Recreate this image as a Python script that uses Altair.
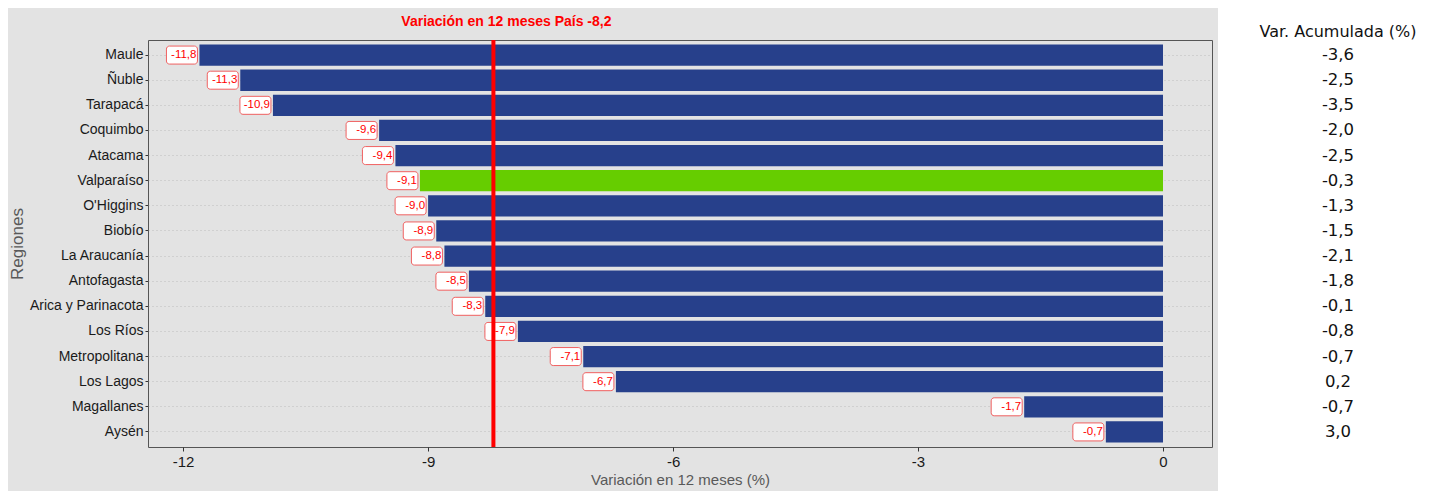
import altair as alt
import pandas as pd

regiones = ["Maule", "Ñuble", "Tarapacá", "Coquimbo", "Atacama", "Valparaíso",
            "O'Higgins", "Biobío", "La Araucanía", "Antofagasta",
            "Arica y Parinacota", "Los Ríos", "Metropolitana", "Los Lagos",
            "Magallanes", "Aysén"]
var12 = [-11.8, -11.3, -10.9, -9.6, -9.4, -9.1, -9.0, -8.9, -8.8, -8.5,
         -8.3, -7.9, -7.1, -6.7, -1.7, -0.7]
acum = [-3.6, -2.5, -3.5, -2.0, -2.5, -0.3, -1.3, -1.5, -2.1, -1.8,
        -0.1, -0.8, -0.7, 0.2, -0.7, 3.0]
destacada = "Valparaíso"
pais = -8.2
x_ticks = [-12, -9, -6, -3, 0]


def fmt(v):
    return f"{v:.1f}".replace(".", ",")


df = pd.DataFrame({"region": regiones, "var": var12, "acum": acum})
df["var2"] = df["var"]
df["grupo"] = ["dest" if r == destacada else "resto" for r in regiones]
df["lab"] = [fmt(v) for v in var12]
df["acum_lab"] = [fmt(v) for v in acum]

W, H = 1064, 407
SANS = "Liberation Sans"
RED = "#FF0000"

y_enc = alt.Y(
    "region:N", sort=regiones, title="Regiones",
    scale=alt.Scale(paddingInner=0.15, paddingOuter=0.175),
    axis=alt.Axis(
        grid=True, gridDash=[1, 3], gridColor="#BDBDBD", gridWidth=1,
        domain=False, tickColor="#333333", tickSize=3, labelPadding=2,
        labelFont=SANS, labelFontSize=14, labelColor="#1A1A1A",
        titleFont=SANS, titleFontSize=17, titleFontWeight="normal",
        titleColor="#595959", titleX=-122, titleY=H / 2,
    ),
)
x_scale = alt.Scale(domain=[-12.43, 0.6], nice=False, zero=False)
x_enc = alt.X(
    "var:Q", scale=x_scale, title="Variación en 12 meses (%)",
    axis=alt.Axis(
        values=x_ticks, labelExpr="toString(datum.value)", grid=False,
        domain=False, tickColor="#333333", tickSize=4, labelPadding=3,
        labelFont=SANS, labelFontSize=15, labelColor="#1A1A1A",
        titleFont=SANS, titleFontSize=15, titleFontWeight="normal",
        titleColor="#595959", titlePadding=3,
    ),
)

base = alt.Chart(df)

white = alt.Chart(pd.DataFrame({"a": [0]})).mark_rect(color="white").encode(
    x=alt.value(W + 6), x2=alt.value(W + 300),
    y=alt.value(-60), y2=alt.value(H + 80),
)

bars = base.mark_bar().encode(
    x=x_enc, x2=alt.datum(0), y=y_enc,
    color=alt.Color("grupo:N", scale=alt.Scale(domain=["resto", "dest"],
                                               range=["#27408B", "#66CD00"]),
                    legend=None),
)

boxes = base.mark_bar(
    height=18, cornerRadius=3, fill="white", stroke="#F06060",
    strokeWidth=1, xOffset=-33, x2Offset=-2,
).encode(x="var:Q", x2="var2:Q", y=alt.Y("region:N", sort=regiones))

labels = base.mark_text(
    align="right", baseline="middle", dx=-3, font=SANS, fontSize=11.5,
    color=RED,
).encode(x="var:Q", y=alt.Y("region:N", sort=regiones), text="lab:N")

pdf = pd.DataFrame({"p": [pais], "t": [f"Variación en 12 meses País {fmt(pais)}"]})
rule = alt.Chart(pdf).mark_rule(color=RED, strokeWidth=4).encode(x="p:Q")
title = alt.Chart(pdf).mark_text(
    font=SANS, fontSize=14, fontWeight="bold", color=RED,
    align="center", baseline="middle", dx=13,
).encode(x="p:Q", y=alt.value(-18), text="t:N")

acum_text = base.mark_text(
    font="DejaVu Sans", fontSize=16.5, color="#111111", align="center",
    baseline="middle",
).encode(x=alt.value(1190), y=alt.Y("region:N", sort=regiones), text="acum_lab:N")

acum_head = alt.Chart(pd.DataFrame({"t": ["Var. Acumulada (%)"]})).mark_text(
    font="DejaVu Sans", fontSize=16, color="#111111", align="center",
    baseline="middle",
).encode(x=alt.value(1190), y=alt.value(-8), text="t:N")

chart = alt.layer(
    white, bars, boxes, labels, rule, title, acum_text, acum_head
).properties(
    width=W, height=H,
    background="#E3E3E3",
    padding={"left": 140, "top": 32, "right": 209, "bottom": 44},
    autosize=alt.AutoSizeParams(type="none"),
).configure_view(
    stroke="#555555", strokeWidth=1, fill="#E3E3E3",
)

chart.save("out.html", embed_options={"renderer": "svg", "actions": False})
